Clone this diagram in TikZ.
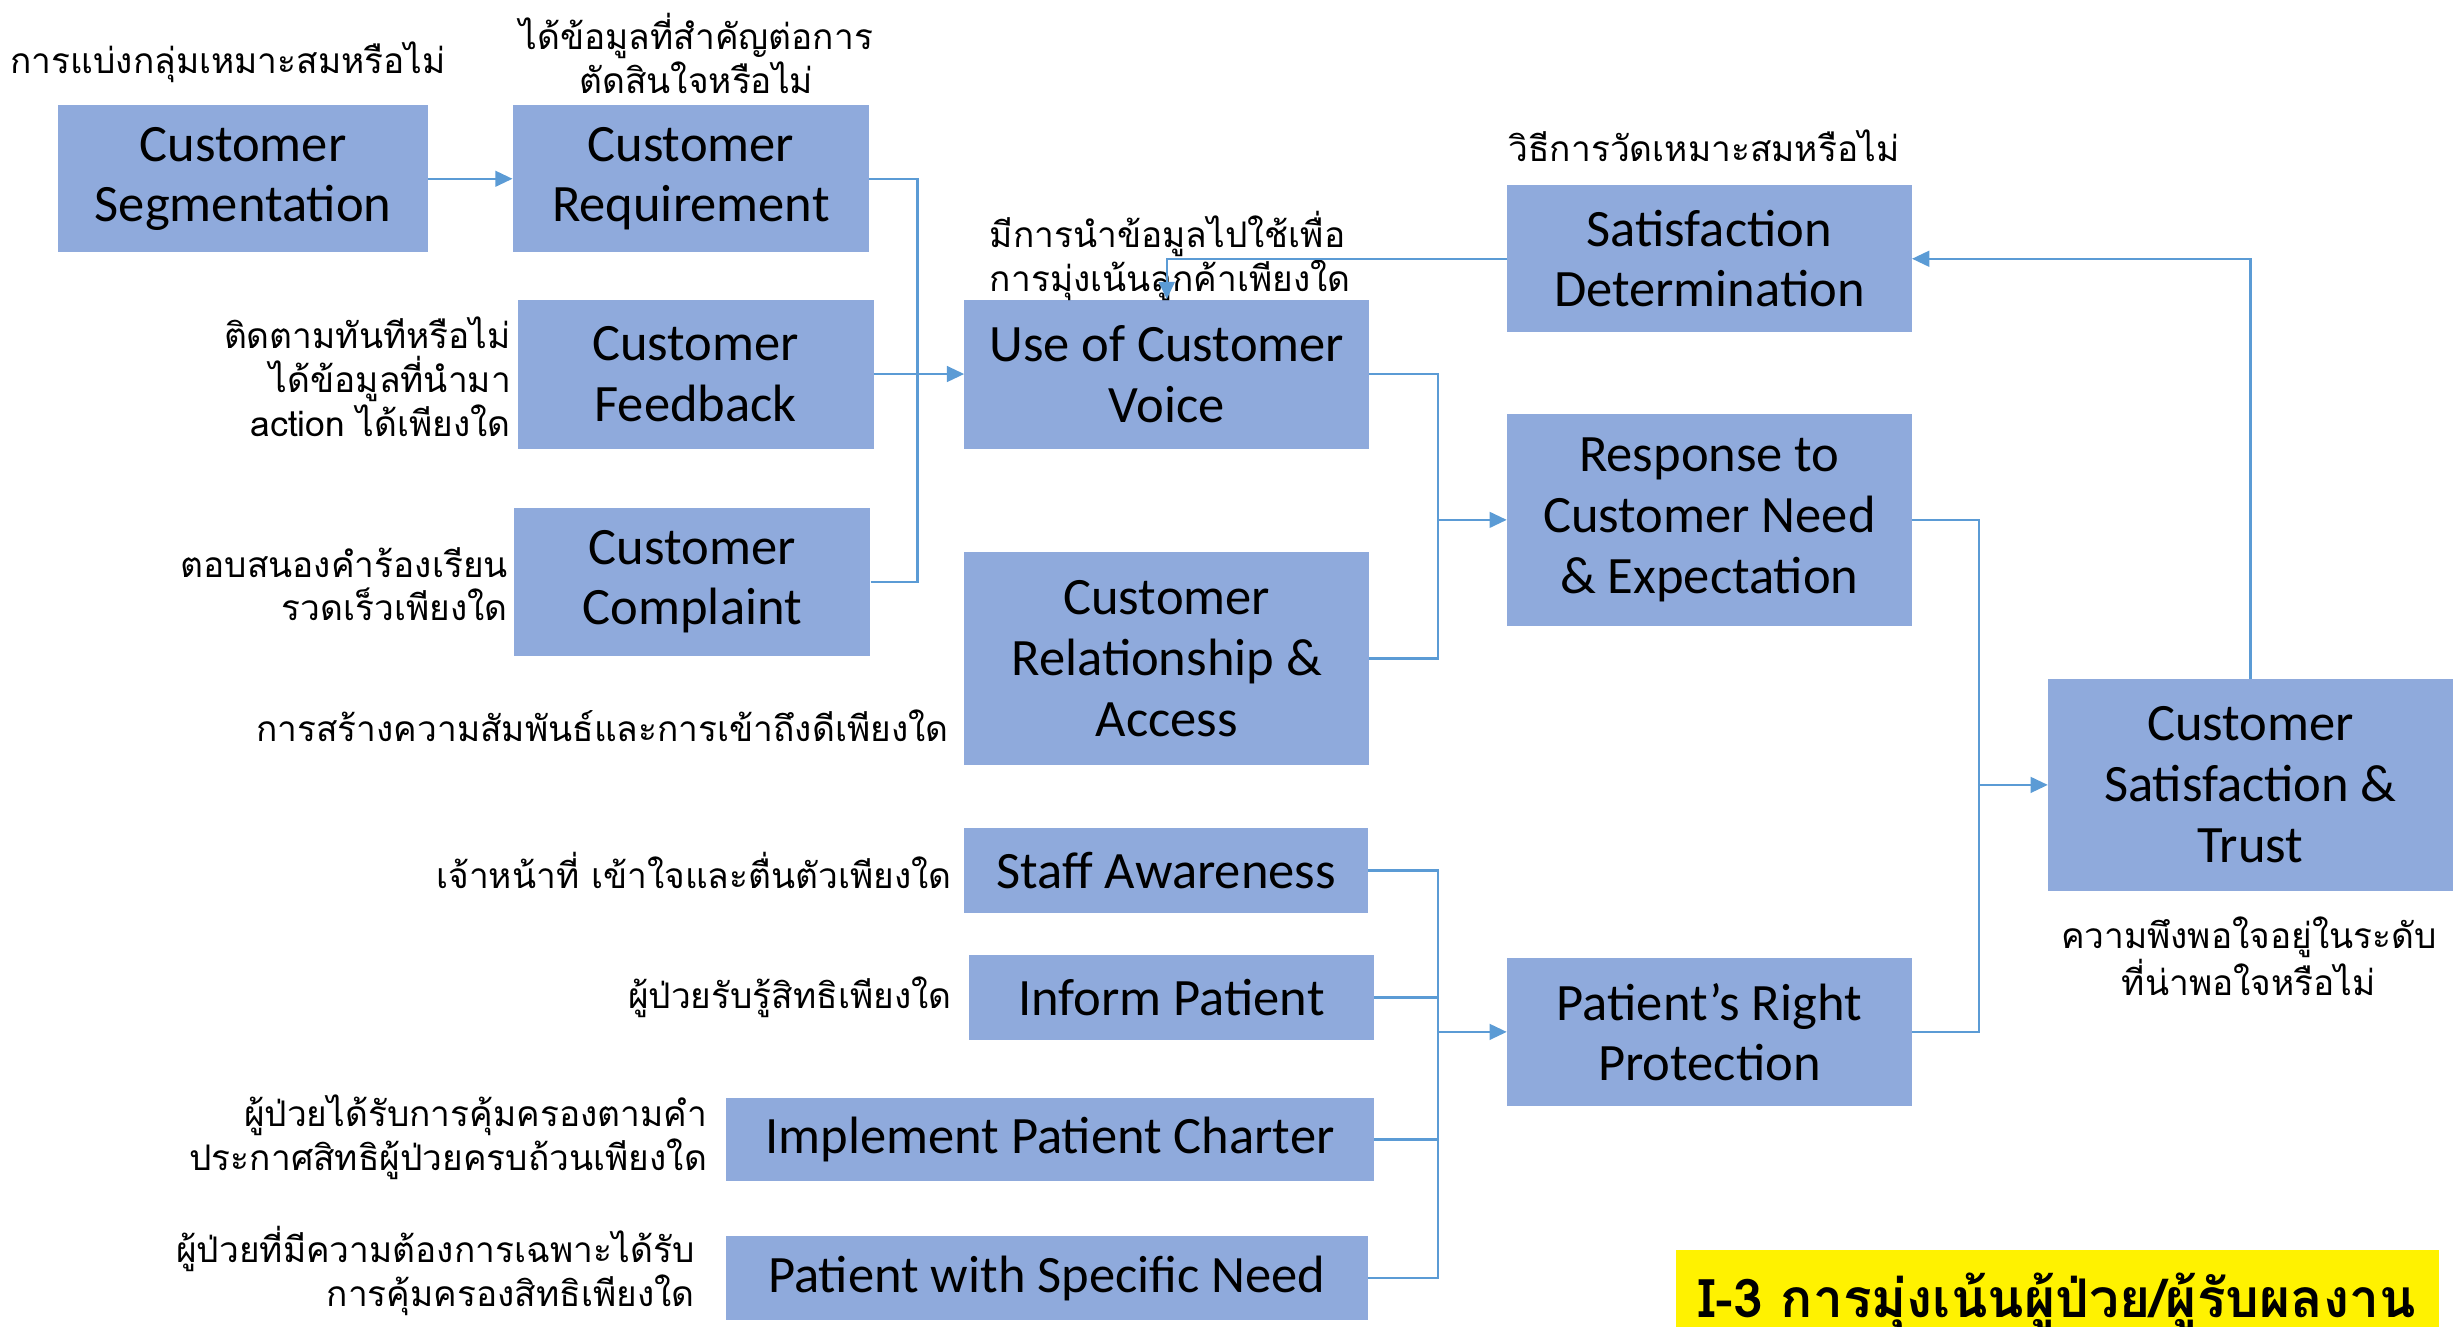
\documentclass[tikz,border=0pt]{standalone}
\usepackage{fontspec}
\setmainfont{Carlito}
\newfontfamily\thaifont[Script=Thai]{Loma}
\newfontfamily\thaibold[Script=Thai,BoldFont={* Bold}]{Loma}
\usetikzlibrary{arrows.meta}
\definecolor{boxblue}{HTML}{8FAADC}
\definecolor{lineblue}{HTML}{5B9BD5}
\begin{document}
\begin{tikzpicture}[x=1pt,y=-1pt,
  box/.style={fill=boxblue, inner sep=0pt, align=center, text=black,
    font=\fontsize{33.5}{38.5}\selectfont},
  box3/.style={box, font=\fontsize{33.5}{39}\selectfont},
  lab/.style={font=\thaifont\fontsize{22.5}{28}\selectfont, inner sep=0pt, text=black},
  conn/.style={draw=lineblue, line width=1.6pt},
  arr/.style={conn, -{Triangle[length=11pt,width=10pt]}}]
\useasboundingbox (0,0) rectangle (1568,845.6);
\clip (0,0) rectangle (1568,845.6);
% boxes
\node[box, minimum width=236pt, minimum height=94pt] (seg) at (155,114) {Customer\\Segmentation};
\node[box, minimum width=227pt, minimum height=94pt] (req) at (440.5,114) {Customer\\Requirement};
\node[box, minimum width=227pt, minimum height=95pt] (fb) at (443.5,238.5) {Customer\\Feedback};
\node[box, minimum width=227pt, minimum height=94pt] (cmp) at (441.5,371) {Customer\\Complaint};
\node[box, minimum width=258pt, minimum height=95pt] (voice) at (744,238.5) {Use of Customer\\Voice};
\node[box3, minimum width=258pt, minimum height=136pt] (rel) at (744,420) {Customer\\Relationship \&\\Access};
\node[box, minimum width=257pt, minimum height=54pt] (staff) at (743.5,555) {Staff Awareness};
\node[box, minimum width=258pt, minimum height=54pt] (inform) at (747,636) {Inform Patient};
\node[box, minimum width=413pt, minimum height=53pt] (impl) at (669.5,726.5) {Implement Patient Charter};
\node[box, minimum width=409pt, minimum height=54pt] (spec) at (667.5,815) {Patient with Specific Need};
\node[box, minimum width=258pt, minimum height=94pt] (sat) at (1090,165) {Satisfaction\\Determination};
\node[box3, minimum width=258pt, minimum height=135pt] (resp) at (1090,331.5) {Response to\\Customer Need\\\& Expectation};
\node[box, minimum width=258pt, minimum height=94pt] (prp) at (1090,658) {Patient’s Right\\Protection};
\node[box3, minimum width=258pt, minimum height=135pt] (cst) at (1435,500.5) {Customer\\Satisfaction \&\\Trust};
% title
\fill[yellow] (1069,797) rectangle (1555,880);
\node[font=\thaibold\bfseries\fontsize{34}{38}\selectfont, inner sep=0pt, anchor=base west] (title) at (1083,840) {I-3 การมุ่งเน้นผู้ป่วย/ผู้รับผลงาน};
% labels
\node[lab, anchor=center] (l1) at (145.5,40) {การแบ่งกลุ่มเหมาะสมหรือไม่};
\node[lab, align=center] (l2) at (444,34) {ได้ข้อมูลที่สำคัญต่อการ\\ตัดสินใจหรือไม่};
\node[lab, align=right, anchor=east] (l3) at (326,240) {ติดตามทันทีหรือไม่\\ได้ข้อมูลที่นำมา\\action ได้เพียงใด};
\node[lab, align=right, anchor=east] (l4) at (324,372.5) {ตอบสนองคำร้องเรียน\\รวดเร็วเพียงใด};
\node[lab, anchor=east] (l5) at (605,463) {การสร้างความสัมพันธ์และการเข้าถึงดีเพียงใด};
\node[lab, anchor=east] (l6) at (607,555) {เจ้าหน้าที่ เข้าใจและตื่นตัวเพียงใด};
\node[lab, anchor=east] (l7) at (607,636) {ผู้ป่วยรับรู้สิทธิเพียงใด};
\node[lab, align=right, anchor=east] (l8) at (451,725) {ผู้ป่วยได้รับการคุ้มครองตามคำ\\ประกาศสิทธิผู้ป่วยครบถ้วนเพียงใด};
\node[lab, align=right, anchor=east] (l9) at (443,810.5) {ผู้ป่วยที่มีความต้องการเฉพาะได้รับ\\การคุ้มครองสิทธิเพียงใด};
\node[lab, align=left, anchor=west] (l10) at (631,163) {มีการนำข้อมูลไปใช้เพื่อ\\การมุ่งเน้นลูกค้าเพียงใด};
\node[lab, anchor=center] (l11) at (1086.5,93) {วิธีการวัดเหมาะสมหรือไม่};
\node[lab, align=center] (l12) at (1434,610) {ความพึงพอใจอยู่ในระดับ\\ที่น่าพอใจหรือไม่};
% connectors
\coordinate (b1) at (585,238.5);
\coordinate (b2) at (917,331.5);
\coordinate (b3) at (917,658);
\coordinate (b4) at (1262,500.5);
\draw[arr] (seg.east) -- (req.west);
\draw[conn] (req.east) -| (b1);
\draw[conn] (cmp.east) -| (b1);
\draw[arr] (fb.east) -- (voice.west);
\draw[conn] (voice.east) -| (b2);
\draw[conn] (rel.east) -| (b2);
\draw[arr] (b2) -- (resp.west);
\draw[conn] (staff.east) -| (b3);
\draw[conn] (inform.east) -| (b3);
\draw[conn] (impl.east) -| (b3);
\draw[conn] (spec.east) -| (b3);
\draw[arr] (b3) -- (prp.west);
\draw[conn] (resp.east) -| (b4);
\draw[conn] (prp.east) -| (b4);
\draw[arr] (b4) -- (cst.west);
\draw[arr] (cst.north) |- (sat.east);
\draw[arr] (sat.west) -| (voice.north);
\end{tikzpicture}
\end{document}
